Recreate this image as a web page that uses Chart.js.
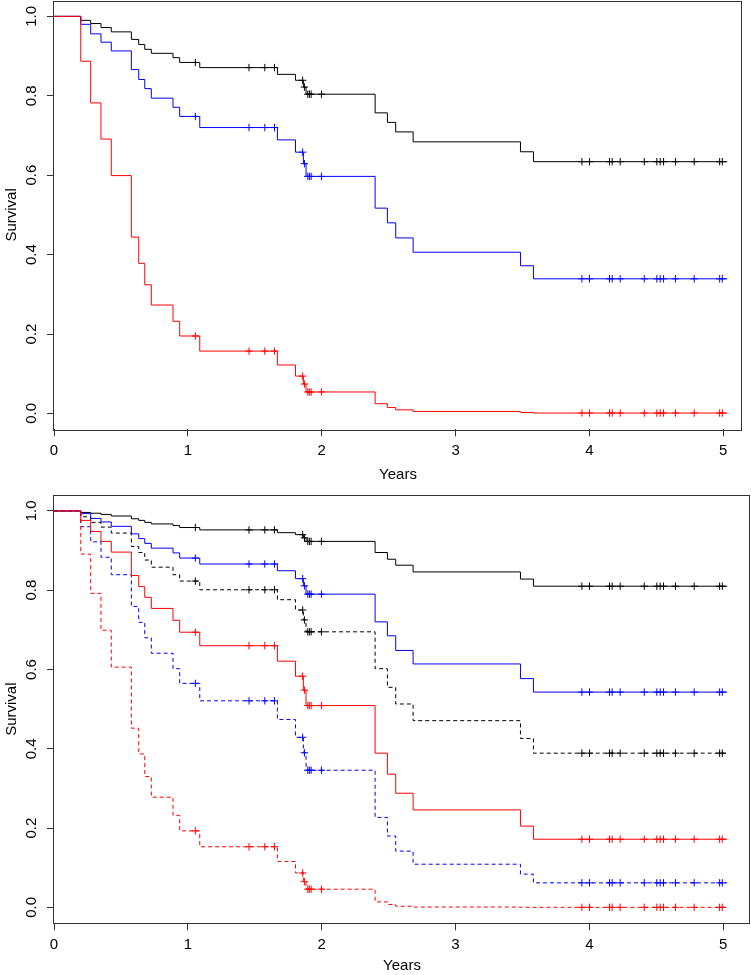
<!DOCTYPE html>
<html>
<head>
<meta charset="utf-8">
<script src="https://cdn.jsdelivr.net/npm/chart.js@4.4.1/dist/chart.umd.min.js"></script>
<style>
  html, body { margin: 0; padding: 0; background: #fff; overflow: hidden; }
  .panel { position: absolute; left: 0; width: 751px; }
  #top { top: 0; height: 487px; }
  #bottom { top: 487px; height: 491px; }
</style>
</head>
<body>
<div class="panel" id="top"><canvas id="topChart"></canvas></div>
<div class="panel" id="bottom"><canvas id="bottomChart"></canvas></div>
<script>
'use strict';

// times (years) where the curves step down, shared by every curve
const eventYears = [0.200, 0.274, 0.351, 0.428, 0.578, 0.633, 0.678, 0.727, 0.889, 0.939, 1.089,
  1.669, 1.804, 1.863, 1.883, 2.399, 2.491, 2.553, 2.683, 3.485, 3.582];
// censoring marks (+)
const censorYears = [1.056, 1.457, 1.575, 1.647, 1.858, 1.871, 1.896, 1.908, 1.921, 1.998,
  3.944, 4.001, 4.150, 4.170, 4.230, 4.410, 4.504, 4.529, 4.554, 4.643, 4.783, 4.973, 4.993];
const lastYear = 5.03;

const xTicks = [0, 1, 2, 3, 4, 5];
const yTicks = [0, 0.2, 0.4, 0.6, 0.8, 1.0];

// top panel: survival after each step
const topBlack = [0.990, 0.982, 0.972, 0.961, 0.942, 0.929, 0.917, 0.907, 0.896, 0.884, 0.871,
  0.854, 0.839, 0.822, 0.804, 0.757, 0.733, 0.709, 0.684, 0.659, 0.634];
const topBlue = [0.980, 0.956, 0.935, 0.913, 0.866, 0.841, 0.818, 0.794, 0.771, 0.748, 0.720,
  0.689, 0.658, 0.629, 0.597, 0.517, 0.480, 0.442, 0.406, 0.372, 0.339];
const topRed = [0.887, 0.782, 0.691, 0.599, 0.444, 0.378, 0.324, 0.273, 0.232, 0.195, 0.157,
  0.122, 0.094, 0.074, 0.054, 0.0245, 0.015, 0.009, 0.005, 0.0025, 0.001];

// bottom panel, solid curves
const botBlack = [0.996, 0.994, 0.991, 0.987, 0.980, 0.976, 0.971, 0.967, 0.963, 0.958, 0.952,
  0.945, 0.940, 0.932, 0.923, 0.895, 0.878, 0.863, 0.846, 0.828, 0.810];
const botBlue = [0.993, 0.981, 0.972, 0.961, 0.942, 0.930, 0.918, 0.906, 0.894, 0.881, 0.866,
  0.849, 0.829, 0.811, 0.790, 0.720, 0.685, 0.648, 0.614, 0.577, 0.543];
const botRed = [0.976, 0.948, 0.923, 0.896, 0.837, 0.809, 0.782, 0.754, 0.724, 0.694, 0.660,
  0.621, 0.583, 0.548, 0.509, 0.389, 0.336, 0.288, 0.246, 0.205, 0.172];
// bottom panel, dashed curves
const botBlackDash = [0.985, 0.971, 0.959, 0.944, 0.910, 0.895, 0.876, 0.858, 0.839, 0.823, 0.801,
  0.776, 0.750, 0.725, 0.695, 0.602, 0.555, 0.513, 0.471, 0.426, 0.389];
const botBlueDash = [0.960, 0.922, 0.883, 0.839, 0.759, 0.719, 0.680, 0.641, 0.602, 0.565, 0.521,
  0.474, 0.429, 0.390, 0.346, 0.227, 0.180, 0.142, 0.109, 0.084, 0.062];
const botRedDash = [0.891, 0.792, 0.699, 0.606, 0.452, 0.387, 0.330, 0.278, 0.232, 0.193, 0.153,
  0.116, 0.087, 0.065, 0.046, 0.014, 0.0075, 0.003, 0.001, 0.0005, 0.0003];

const black = '#000000', blue = '#0000ff', red = '#ff0000';
const font = { family: "'Liberation Sans', Arial, Helvetica, sans-serif", size: 15 };

// step curve points + censor points
function kmPoints(surv) {
  const pts = [{ x: 0, y: 1 }];
  eventYears.forEach((t, i) => pts.push({ x: t, y: surv[i] }));
  censorYears.forEach(t => {
    let s = 1;
    eventYears.forEach((e, i) => { if (e <= t) s = surv[i]; });
    pts.push({ x: t, y: s, censor: true });
  });
  pts.sort((a, b) => a.x - b.x);
  pts.push({ x: lastYear, y: surv[surv.length - 1] });
  return pts;
}

function kmSet(surv, color, dashed) {
  return {
    data: kmPoints(surv),
    borderColor: color,
    backgroundColor: color,
    borderWidth: 1,
    borderDash: dashed ? [4, 3] : [],
    stepped: 'before',
    fill: false,
    pointStyle: 'cross',
    pointRadius: ctx => (ctx.raw && ctx.raw.censor ? 3.7 : 0),
    pointBorderColor: color,
    pointBorderWidth: 1,
    pointHoverRadius: 0
  };
}

// plot frame like R's box()
const boxPlugin = {
  id: 'box',
  afterDatasetsDraw(chart) {
    const { ctx, chartArea: a } = chart;
    ctx.save();
    ctx.strokeStyle = '#333';
    ctx.lineWidth = 1;
    ctx.strokeRect(Math.round(a.left) - 0.5, Math.round(a.top) + 0.5,
      Math.round(a.right - a.left), Math.round(a.bottom - a.top));
    ctx.restore();
  }
};

function panelOptions(xMax, pad, xAxisHeight) {
  return {
    responsive: true,
    maintainAspectRatio: false,
    animation: false,
    events: [],
    layout: { padding: pad },
    plugins: { legend: { display: false }, tooltip: { enabled: false } },
    scales: {
      x: {
        type: 'linear',
        min: 0,
        max: xMax,
        afterBuildTicks: s => { s.ticks = xTicks.map(v => ({ value: v })); },
        afterFit: s => { s.height = xAxisHeight; s.paddingLeft = 0; s.paddingRight = 0; },
        ticks: { font: font, color: '#000', padding: 6, maxRotation: 0, callback: v => String(v) },
        grid: { drawOnChartArea: false, drawTicks: true, tickLength: 7, color: '#333' },
        border: { display: false },
        title: { display: true, text: 'Years', font: font, color: '#000', padding: { top: 0, bottom: 3 } }
      },
      y: {
        type: 'linear',
        min: -0.04,
        max: 1.04,
        afterBuildTicks: s => { s.ticks = yTicks.map(v => ({ value: v })); },
        afterFit: s => { s.width = 54; s.paddingTop = 0; s.paddingBottom = 0; },
        ticks: { font: font, color: '#000', padding: 4.5, minRotation: 90, maxRotation: 90,
          crossAlign: 'center', callback: v => v.toFixed(1) },
        grid: { drawOnChartArea: false, drawTicks: true, tickLength: 7, color: '#333' },
        border: { display: false },
        title: { display: true, text: 'Survival', font: font, color: '#000', padding: { top: 3, bottom: 0 } }
      }
    }
  };
}

new Chart(document.getElementById('topChart'), {
  type: 'line',
  data: {
    datasets: [
      kmSet(topRed, red, false),
      kmSet(topBlue, blue, false),
      kmSet(topBlack, black, false)
    ]
  },
  options: panelOptions(5.14, { top: 0.5, right: 9, left: 0, bottom: 0 }, 57.7),
  plugins: [boxPlugin]
});

new Chart(document.getElementById('bottomChart'), {
  type: 'line',
  data: {
    datasets: [
      kmSet(botRed, red, false),
      kmSet(botRedDash, red, true),
      kmSet(botBlue, blue, false),
      kmSet(botBlueDash, blue, true),
      kmSet(botBlack, black, false),
      kmSet(botBlackDash, black, true)
    ]
  },
  options: panelOptions(5.2, { top: 8, right: 1, left: 0, bottom: 0 }, 54.7),
  plugins: [boxPlugin]
});
</script>
</body>
</html>
